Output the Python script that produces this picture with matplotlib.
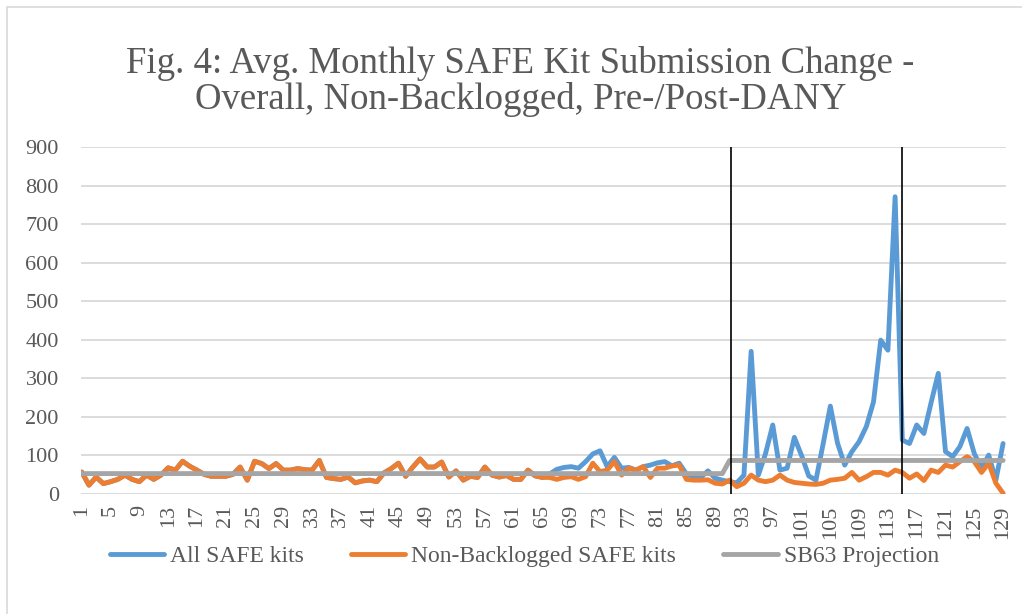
import numpy as np
import matplotlib
matplotlib.use("Agg")
import matplotlib.pyplot as plt
from matplotlib.patches import Rectangle

plt.rcParams['font.family'] = ['Liberation Serif', 'DejaVu Serif']

# monthly values (month index 1..129)
months = np.arange(1, 130)

non_backlogged = [
    57, 23, 44, 27, 32, 38, 49, 38, 32, 49,
    38, 49, 68, 62, 85, 72, 62, 51, 46, 46,
    46, 51, 70, 36, 85, 79, 66, 79, 62, 62,
    66, 63, 62, 87, 43, 40, 38, 44, 29, 34,
    36, 32, 55, 66, 80, 46, 70, 91, 70, 70,
    83, 44, 60, 36, 46, 43, 70, 49, 44, 48,
    38, 38, 62, 47, 43, 43, 38, 43, 45, 38,
    45, 80, 58, 62, 84, 49, 67, 62, 71, 43,
    67, 67, 73, 75, 38, 36, 36, 37, 28, 26,
    36, 19, 28, 49, 36, 32, 36, 49, 36, 30,
    28, 26, 25, 28, 36, 38, 41, 56, 36, 45,
    56, 56, 49, 62, 56, 41, 52, 35, 62, 56,
    75, 70, 84, 97, 84, 56, 80, 28, 2,
]

# before month 66 the two series coincide
all_kits = non_backlogged[:65] + [
    52, 64, 69, 71, 67, 84, 104, 112, 71, 95,
    67, 69, 62, 71, 75, 81, 84, 73, 80, 52,
    45, 43, 60, 41, 36, 32, 29, 49, 370, 49,
    105, 179, 62, 67, 147, 100, 47, 36, 130, 228,
    132, 75, 110, 136, 175, 239, 399, 373, 771, 140,
    131, 179, 157, 237, 313, 110, 97, 123, 170, 105,
    67, 101, 36, 131,
]

sb63_projection = [53] * 90 + [87] * 39

marker_months = [91.2, 114.9]

tick_months = list(range(1, 130, 4))

fig = plt.figure(figsize=(10.22, 6.14), dpi=100)
ax = fig.add_axes([0.0793, 0.1954, 0.9050, 0.5652])

ax.plot(months, all_kits, color='#5B9BD5', lw=3.5, solid_capstyle='round',
        solid_joinstyle='round', label='All SAFE kits', zorder=3)
ax.plot(months, non_backlogged, color='#ED7D31', lw=3.5, solid_capstyle='round',
        solid_joinstyle='round', label='Non-Backlogged SAFE kits', zorder=4)
ax.plot(months, sb63_projection, color='#A5A5A5', lw=3.5, solid_capstyle='round',
        solid_joinstyle='round', label='SB63 Projection', zorder=5)
for m in marker_months:
    ax.axvline(m, ymin=0, ymax=1, color='black', lw=1.2, zorder=6)

ax.set_xlim(0.9, 129.4)
ax.set_ylim(0, 900)
ax.set_yticks(range(0, 1000, 100))
ax.set_xticks(tick_months)
ax.set_xticklabels([str(t) for t in tick_months], rotation=90)
ax.tick_params(axis='both', length=0, labelsize=16, colors='#595959')
ax.tick_params(axis='y', pad=16)
ax.tick_params(axis='x', pad=8)
ax.grid(axis='y', color='#D9D9D9', lw=1.3)
ax.set_axisbelow(True)
for s in ax.spines.values():
    s.set_visible(False)

fig.text(0.509, 0.897, 'Fig. 4: Avg. Monthly SAFE Kit Submission Change -',
         ha='center', va='center', fontsize=26.5, color='#595959')
fig.text(0.509, 0.838, 'Overall, Non-Backlogged, Pre-/Post-DANY',
         ha='center', va='center', fontsize=26.5, color='#595959')

fig.legend(loc='center', bbox_to_anchor=(0.513, 0.094), ncol=3, frameon=False,
           fontsize=17, labelcolor='#595959', handlelength=2.3,
           handletextpad=0.25, columnspacing=2.0)

# chart border (runs off the right and bottom of the capture)
fig.patches.append(Rectangle((7 / 1022, -0.05), 1.1, 1 - 7 / 614 + 0.05,
                             transform=fig.transFigure, fill=False,
                             edgecolor='#D9D9D9', lw=1.2))

fig.savefig('out.png', dpi=100)
